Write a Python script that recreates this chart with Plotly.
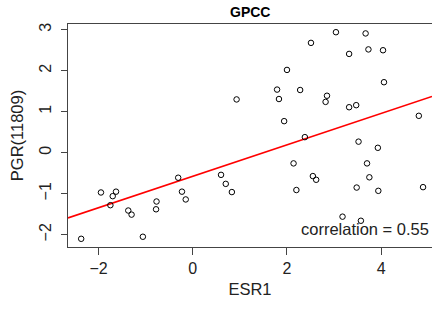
import plotly.graph_objects as go

esr1 = [0.93, 3.04, 3.67, 2.51, 3.32, 3.73, 4.04, 2.00, 4.06, 1.79, 2.28, 1.83, 2.85, 2.82,
        3.32, 3.47, 4.80, 1.94, 2.38, 3.52, 3.93, 2.14, 3.70, 2.55, 2.62, 3.75, 2.20, 3.48,
        3.94, 4.89, 3.18, 3.57, -2.37, -1.95, -1.75, -1.70, -1.63, -1.37, -1.30, -1.06,
        -0.77, -0.78, -0.31, -0.23, -0.15, 0.60, 0.70, 0.83]
pgr = [1.30, 2.94, 2.91, 2.68, 2.41, 2.52, 2.50, 2.02, 1.72, 1.54, 1.53, 1.31, 1.39, 1.24,
       1.11, 1.16, 0.90, 0.77, 0.38, 0.27, 0.12, -0.26, -0.26, -0.57, -0.66, -0.60, -0.91, -0.85,
       -0.93, -0.84, -1.56, -1.66, -2.10, -0.97, -1.28, -1.06, -0.95, -1.41, -1.51, -2.05,
       -1.19, -1.38, -0.61, -0.95, -1.14, -0.54, -0.76, -0.96]

fit_slope = 0.383
fit_intercept = -0.575
x_range = [-2.65, 5.08]
y_range = [-2.30, 3.14]
title = "GPCC"
corr_label = "correlation = 0.55"

font = "Liberation Sans, Arial, sans-serif"
axcol = "#444444"

fig = go.Figure()
fig.add_trace(go.Scatter(
    x=x_range, y=[fit_intercept + fit_slope * v for v in x_range],
    mode="lines", line=dict(color="#ff0000", width=1.6), showlegend=False, hoverinfo="skip"))
fig.add_trace(go.Scatter(
    x=esr1, y=pgr, mode="markers",
    marker=dict(symbol="circle-open", size=5.5, color="black", line=dict(width=1, color="black")),
    showlegend=False))

fig.update_layout(
    width=432, height=309,
    margin=dict(l=68, r=0, t=24, b=62, autoexpand=False),
    paper_bgcolor="white", plot_bgcolor="white",
    font=dict(family=font, size=16, color="#222222"),
    annotations=[
        dict(text="<b>" + title + "</b>", x=0.5, xref="paper", y=1, yref="paper",
             yanchor="middle", yshift=12, showarrow=False,
             font=dict(size=14, color="black", family=font)),
        dict(text=corr_label, x=1, xref="paper", xanchor="right", y=-1.87, yref="y",
             xshift=-1, showarrow=False, font=dict(size=16.5, color="#222222", family=font)),
    ],
)
fig.update_xaxes(
    range=x_range, tickvals=[-2, 0, 2, 4], showgrid=False, zeroline=False,
    showline=True, linecolor=axcol, linewidth=1.3, mirror=True, automargin=False,
    ticks="outside", ticklen=7, tickcolor=axcol, tickfont=dict(size=16),
    title=dict(text="ESR1", font=dict(size=16.5), standoff=7))
fig.update_yaxes(
    range=y_range, tickvals=[-2, -1, 0, 1, 2, 3], showgrid=False, zeroline=False,
    showline=True, linecolor=axcol, linewidth=1.3, mirror=False, automargin=False,
    ticks="outside", ticklen=6, tickcolor=axcol, tickangle=-90, tickfont=dict(size=16),
    ticklabelstandoff=3,
    title=dict(text="PGR(11809)", font=dict(size=16.5), standoff=9))

fig.write_html(
    "out.html",
    config={"displayModeBar": False},
    post_script="document.body.style.margin='0';document.body.style.overflow='hidden';",
)
